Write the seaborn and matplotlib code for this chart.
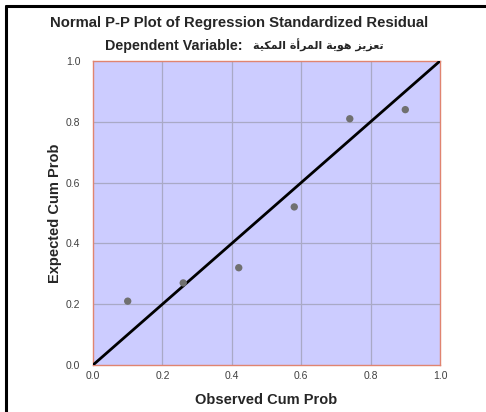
# Normal P-P plot of regression standardized residual, redrawn with seaborn

import pandas as pd
from matplotlib import pyplot as plt
from matplotlib.lines import Line2D
import seaborn as sns

# data
observed_cum_prob = [0.10, 0.26, 0.42, 0.58, 0.74, 0.90]
expected_cum_prob = [0.21, 0.27, 0.32, 0.52, 0.81, 0.84]
reference_line = [0.0, 1.0]
tick_values = [0.0, 0.2, 0.4, 0.6, 0.8, 1.0]
tick_labels = ["0.0", "0.2", "0.4", "0.6", "0.8", "1.0"]

title = "Normal P-P Plot of Regression Standardized Residual"
dependent_label = "Dependent Variable:"
dependent_name = "تعزيز هوية المرأة المكية"
x_label = "Observed Cum Prob"
y_label = "Expected Cum Prob"

# matplotlib has no arabic shaping, so pick the joined forms by hand
# letter -> (isolated, final, initial, medial); two entries = joins to the right only
ARABIC_FORMS = {
    "ت": ("\ufe95", "\ufe96", "\ufe97", "\ufe98"),
    "ع": ("\ufec9", "\ufeca", "\ufecb", "\ufecc"),
    "ي": ("\ufef1", "\ufef2", "\ufef3", "\ufef4"),
    "ه": ("\ufee9", "\ufeea", "\ufeeb", "\ufeec"),
    "ل": ("\ufedd", "\ufede", "\ufedf", "\ufee0"),
    "م": ("\ufee1", "\ufee2", "\ufee3", "\ufee4"),
    "ك": ("\ufed9", "\ufeda", "\ufedb", "\ufedc"),
    "ز": ("\ufeaf", "\ufeb0"),
    "و": ("\ufeed", "\ufeee"),
    "ة": ("\ufe93", "\ufe94"),
    "ا": ("\ufe8d", "\ufe8e"),
    "ر": ("\ufead", "\ufeae"),
    "أ": ("\ufe83", "\ufe84"),
}


def shape_arabic(text):
    out = []
    for i, ch in enumerate(text):
        forms = ARABIC_FORMS.get(ch)
        if forms is None:
            out.append(ch)
            continue
        prev = text[i - 1] if i > 0 else ""
        nxt = text[i + 1] if i + 1 < len(text) else ""
        join_prev = len(ARABIC_FORMS.get(prev, ())) == 4
        join_next = len(forms) == 4 and nxt in ARABIC_FORMS
        if join_prev and join_next:
            out.append(forms[3])
        elif join_prev:
            out.append(forms[1])
        elif join_next:
            out.append(forms[2])
        else:
            out.append(forms[0])
    # visual order, right to left
    return "".join(out)[::-1]


df = pd.DataFrame({"observed": observed_cum_prob, "expected": expected_cum_prob})
ref = pd.DataFrame({"x": reference_line, "y": reference_line})

sns.set_style("white")
plt.rcParams["font.family"] = ["Liberation Sans", "DejaVu Sans"]

fig = plt.figure(figsize=(4.86, 4.12), dpi=100)
ax = fig.add_axes([93 / 486, 1 - 365 / 412, 347 / 486, 304 / 412])
ax.set_facecolor("#CCCCFF")

####################
# GRID, LINE AND POINTS
####################
for v in tick_values[1:-1]:
    ax.axvline(v, color="#A9A9C6", lw=0.9, zorder=1)
    ax.axhline(v, color="#A9A9C6", lw=0.9, zorder=1)

sns.lineplot(data=ref, x="x", y="y", color="black", lw=2.0, ax=ax, zorder=3)
sns.scatterplot(data=df, x="observed", y="expected", color="#707070",
                s=28, edgecolor="none", ax=ax, zorder=4)

ax.set_xlim(0, 1)
ax.set_ylim(0, 1)
ax.set_xticks(tick_values)
ax.set_yticks(tick_values)
ax.set_xticklabels(tick_labels, fontsize=7.5, color="#404040")
ax.set_yticklabels(tick_labels, fontsize=7.5, color="#404040")
ax.tick_params(axis="x", length=0, pad=4)
ax.tick_params(axis="y", length=0, pad=9)
for s in ax.spines.values():
    s.set_color("#E08470")
    s.set_linewidth(1.0)

ax.set_xlabel(x_label, fontsize=10.5, fontweight="bold", labelpad=9)
ax.set_ylabel(y_label, fontsize=10.5, fontweight="bold", labelpad=3)

####################
# TITLES AND FRAME
####################
fig.text(239 / 486, 1 - 23 / 412, title, ha="center", va="center",
         fontsize=10.7, fontweight="bold")
fig.text(105 / 486, 1 - 46 / 412, dependent_label,
         ha="left", va="center", fontsize=10.3, fontweight="bold")
fig.text(253 / 486, 1 - 45 / 412, shape_arabic(dependent_name),
         ha="left", va="center", fontsize=8, fontweight="bold",
         family="DejaVu Sans")

fig.add_artist(Line2D([6 / 486, 6 / 486], [0, 1 - 6 / 412], color="black", lw=2.2))
fig.add_artist(Line2D([6 / 486, 1], [1 - 6 / 412, 1 - 6 / 412], color="black", lw=2.2))

fig.savefig("out.png", dpi=100)
